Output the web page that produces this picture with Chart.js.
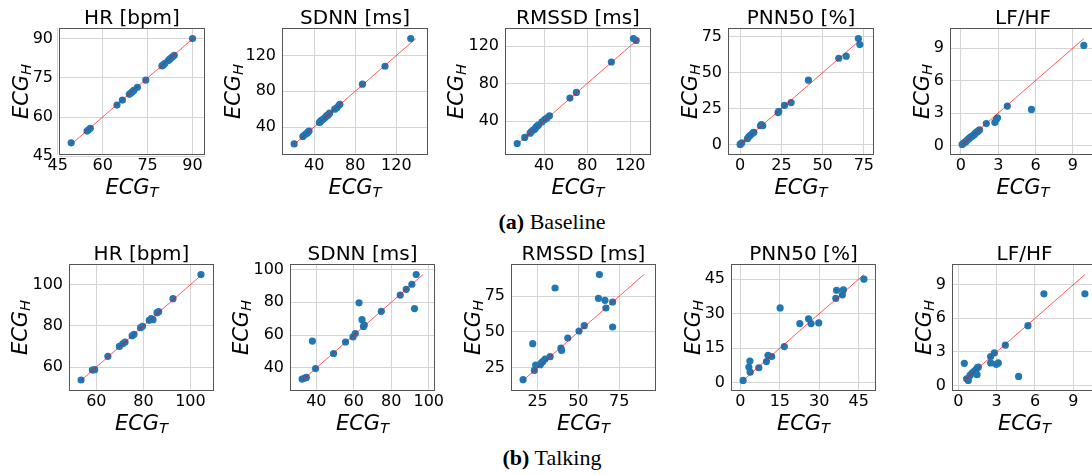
<!DOCTYPE html>
<html>
<head>
<meta charset="utf-8">
<script src="https://cdn.jsdelivr.net/npm/chart.js@4.4.1/dist/chart.umd.min.js"></script>
<style>
  html, body { margin: 0; padding: 0; background: #fff; width: 1092px; height: 475px; overflow: hidden; position: relative; }
  canvas { position: absolute; }
  .caption { position: absolute; left: 402px; width: 300px; text-align: center; font-family: "Liberation Serif", serif; font-size: 22px; line-height: 24px; color: #000; white-space: nowrap; }
</style>
</head>
<body>
<div class="caption" style="top:210px"><b>(a)</b> Baseline</div>
<div class="caption" style="top:446px"><b>(b)</b> Talking</div>
<script>
// Baseline: ECG_T (x) vs ECG_H (y)
const hrBaseT = [49.5, 54.8, 55.3, 55.9, 64.8, 66.6, 68.9, 69.4, 69.9, 70.4, 71.6, 74.4, 79.8, 80.3, 80.8, 81.9, 82.4, 82.9, 83.4, 83.9, 90.0];
const hrBaseH = [50.1, 54.6, 55.1, 55.7, 64.6, 66.5, 68.7, 69.2, 69.7, 70.2, 71.4, 74.2, 79.6, 80.1, 80.6, 81.7, 82.2, 82.7, 83.2, 83.7, 90.1];
const sdnnBaseT = [20.5, 29, 31, 33, 34, 35, 45, 46, 47, 48, 49.5, 51, 52, 53, 54, 55, 60, 62, 64, 65, 87, 109, 134];
const sdnnBaseH = [21, 29.5, 31.5, 33, 34.5, 35.5, 45, 46, 47.5, 48, 49.5, 51, 52.5, 53, 54, 55.5, 60, 61.5, 64, 65.5, 88, 108, 139];
const rmssdBaseT = [15, 22, 27, 28, 29.5, 31, 32, 33, 34, 35, 38, 40.5, 42.5, 45, 64, 70, 102.5, 123, 125.5];
const rmssdBaseH = [16, 22.5, 27, 28.5, 30, 31, 32.5, 34, 35, 36, 39, 41.5, 43, 45.5, 64.5, 70.5, 103, 128, 126];
const pnnBaseT = [0, 0.5, 1, 4.4, 5.3, 6.3, 7.7, 8.3, 12.3, 12.9, 13.7, 23, 23.4, 26.9, 30.9, 41.4, 59.8, 64.3, 71.7, 72.6];
const pnnBaseH = [0, 0.6, 1.1, 4, 5.5, 6.5, 8, 8.5, 13, 13.8, 13, 22.2, 23, 27.2, 29.2, 44.8, 60.1, 61.5, 73.8, 69.6];
const lfhfBaseT = [0.1, 0.2, 0.3, 0.4, 0.5, 0.6, 0.7, 0.8, 0.9, 1.0, 1.1, 1.2, 1.3, 1.4, 1.5, 2.04, 2.73, 2.86, 2.94, 3.73, 5.67, 9.88];
const lfhfBaseH = [0.1, 0.2, 0.3, 0.35, 0.5, 0.6, 0.7, 0.8, 0.85, 0.95, 1.05, 1.2, 1.25, 1.35, 1.45, 2.03, 2.13, 2.44, 2.56, 3.64, 3.33, 9.25];

// Talking
const hrTalkT = [53.5, 58.3, 59.3, 64.9, 69.8, 71.2, 72.2, 75.2, 76, 78.8, 79.6, 82.5, 83.3, 84.1, 85.8, 86.5, 92.6, 104.5];
const hrTalkH = [53.7, 58.5, 58.7, 65.2, 70, 71.3, 72.1, 75.2, 75.9, 79.1, 79.8, 82.7, 83.5, 83, 86.4, 86.9, 93.2, 104.9];
const sdnnTalkT = [32.4, 33.8, 34.7, 37.9, 39.6, 49.2, 55.6, 59.6, 60.8, 62.8, 64.4, 65.2, 65.6, 74.7, 84.8, 88, 91, 92.4, 93.3];
const sdnnTalkH = [33.2, 33.8, 34.2, 56.4, 39.6, 48.8, 55.8, 58.9, 61, 79.7, 69.4, 65.3, 66.1, 74.5, 84.4, 87.9, 91, 76.2, 96.9];
const rmssdTalkT = [16.1, 22, 23, 23.8, 26.6, 27.2, 28.2, 29.6, 32.7, 35.7, 39.3, 39.7, 43.5, 50.4, 53.6, 62.3, 62.9, 66.3, 66.9, 71, 71];
const rmssdTalkH = [16.6, 41.8, 23.1, 26.9, 27.1, 28.3, 29.4, 31.1, 32.7, 80.8, 38.8, 37.1, 45.8, 50.7, 54.4, 73.6, 90.2, 72.2, 66.8, 71, 53.5];
const pnnTalkT = [1, 3.2, 3.6, 3.7, 7, 9.9, 10.5, 11.9, 15.1, 16.7, 22.6, 25.9, 26.9, 29.8, 36.3, 36.6, 38.8, 39.2, 47];
const pnnTalkH = [1, 6.8, 9.4, 4.6, 6.5, 9.2, 11.9, 11.4, 32.5, 15.7, 25.7, 27.8, 25.7, 26, 36.7, 40.2, 38.2, 40.4, 45];
const lfhfTalkT = [0.47, 0.65, 0.78, 0.91, 1.07, 1.23, 1.38, 1.49, 1.57, 1.46, 2.53, 2.53, 2.82, 2.97, 3.13, 3.68, 4.72, 5.45, 6.7, 9.91];
const lfhfTalkH = [1.98, 0.6, 0.45, 0.9, 1.11, 1.26, 1.41, 1.59, 1.65, 0.96, 2.58, 2.01, 2.91, 1.89, 2.01, 3.6, 0.81, 5.34, 8.19, 8.19];

// tick values (same on both axes)
const hrBaseTicks = [45, 60, 75, 90];
const msBaseTicks = [40, 80, 120];
const pnnBaseTicks = [0, 25, 50, 75];
const lfhfTicks = [0, 3, 6, 9];
const hrTalkTicks = [60, 80, 100];
const sdnnTalkTicks = [40, 60, 80, 100];
const rmssdTalkTicks = [25, 50, 75];
const pnnTalkTicks = [0, 15, 30, 45];

const titles = ['HR [bpm]', 'SDNN [ms]', 'RMSSD [ms]', 'PNN50 [%]', 'LF/HF'];

// plot boxes
const row1Left = [59, 282, 505, 728, 950];
const row2Left = [69, 290, 511, 731, 952];

const panels = [
  { title: titles[0], t: hrBaseT, h: hrBaseH, ticks: hrBaseTicks, x: row1Left[0], y: 28, w: 146, ht: 127 },
  { title: titles[1], t: sdnnBaseT, h: sdnnBaseH, ticks: msBaseTicks, x: row1Left[1], y: 28, w: 146, ht: 127 },
  { title: titles[2], t: rmssdBaseT, h: rmssdBaseH, ticks: msBaseTicks, x: row1Left[2], y: 28, w: 146, ht: 127 },
  { title: titles[3], t: pnnBaseT, h: pnnBaseH, ticks: pnnBaseTicks, x: row1Left[3], y: 28, w: 146, ht: 127 },
  { title: titles[4], t: lfhfBaseT, h: lfhfBaseH, ticks: lfhfTicks, x: row1Left[4], y: 28, w: 146, ht: 127 },
  { title: titles[0], t: hrTalkT, h: hrTalkH, ticks: hrTalkTicks, x: row2Left[0], y: 264, w: 145, ht: 127 },
  { title: titles[1], t: sdnnTalkT, h: sdnnTalkH, ticks: sdnnTalkTicks, x: row2Left[1], y: 264, w: 145, ht: 127 },
  { title: titles[2], t: rmssdTalkT, h: rmssdTalkH, ticks: rmssdTalkTicks, x: row2Left[2], y: 264, w: 145, ht: 127 },
  { title: titles[3], t: pnnTalkT, h: pnnTalkH, ticks: pnnTalkTicks, x: row2Left[3], y: 264, w: 145, ht: 127 },
  { title: titles[4], t: lfhfTalkT, h: lfhfTalkH, ticks: lfhfTicks, x: row2Left[4], y: 264, w: 145, ht: 127 }
];

const FONT = '"DejaVu Sans", sans-serif';

function drawSub(ctx, main, sub, cx, baseY) {
  ctx.font = 'italic 21px ' + FONT;
  const mw = ctx.measureText(main).width;
  ctx.font = 'italic 14.7px ' + FONT;
  const sw = ctx.measureText(sub).width;
  const x0 = cx - (mw + sw) / 2;
  ctx.textAlign = 'left';
  ctx.textBaseline = 'alphabetic';
  ctx.font = 'italic 21px ' + FONT;
  ctx.fillText(main, x0, baseY);
  ctx.font = 'italic 14.7px ' + FONT;
  ctx.fillText(sub, x0 + mw, baseY + 3);
}

function decor(p) {
  return {
    id: 'decor',
    afterDraw(chart) {
      const ctx = chart.ctx;
      const a = chart.chartArea;
      ctx.save();
      // box
      ctx.strokeStyle = '#555';
      ctx.lineWidth = 1;
      ctx.strokeRect(a.left + 0.5, a.top + 0.5, a.right - a.left - 1, a.bottom - a.top - 1);
      // title
      ctx.fillStyle = '#000';
      ctx.textAlign = 'center';
      ctx.textBaseline = 'alphabetic';
      ctx.font = '20px ' + FONT;
      ctx.fillText(p.title, (a.left + a.right) / 2, a.top - 4);
      // x label
      drawSub(ctx, 'ECG', 'T', (a.left + a.right) / 2, a.bottom + 39);
      // y label, left of the widest tick label
      ctx.font = '16px ' + FONT;
      const tw = Math.max(...p.ticks.map(v => ctx.measureText(String(v)).width));
      ctx.translate(a.left - tw - 11, (a.top + a.bottom) / 2);
      ctx.rotate(-Math.PI / 2);
      drawSub(ctx, 'ECG', 'H', 0, 0);
      ctx.restore();
    }
  };
}

function makePanel(p) {
  const all = p.t.concat(p.h);
  const lo = Math.min(...all);
  const hi = Math.max(...all);
  const pad = (hi - lo) * 0.1;

  const padL = 80, padT = 30, padR = 12, padB = 52;
  const canvas = document.createElement('canvas');
  canvas.width = p.w + padL + padR;
  canvas.height = p.ht + padT + padB;
  canvas.style.left = (p.x - padL) + 'px';
  canvas.style.top = (p.y - padT) + 'px';
  document.body.appendChild(canvas);

  const axis = (pos) => ({
    type: 'linear',
    position: pos,
    min: lo - pad,
    max: hi + pad,
    afterBuildTicks: s => { s.ticks = p.ticks.map(v => ({ value: v })); },
    afterFit: s => {
      if (pos === 'left') s.width = padL; else s.height = padB;
      s.paddingLeft = 0; s.paddingRight = 0; s.paddingTop = 0; s.paddingBottom = 0;
    },
    grid: { color: '#d4d4d4', lineWidth: 1, drawTicks: false },
    border: { display: false },
    ticks: {
      padding: pos === 'left' ? 6 : 1,
      color: '#000',
      font: { family: FONT, size: 16 },
      maxRotation: 0,
      autoSkip: false,
      callback: v => String(v)
    }
  });

  new Chart(canvas, {
    type: 'scatter',
    data: {
      datasets: [
        {
          data: [{ x: lo, y: lo }, { x: hi, y: hi }],
          showLine: true,
          borderColor: 'rgba(255,0,0,0.65)',
          borderWidth: 1,
          pointRadius: 0,
          order: 0
        },
        {
          data: p.t.map((v, i) => ({ x: v, y: p.h[i] })),
          backgroundColor: '#1f77b4',
          borderColor: '#1f77b4',
          borderWidth: 0,
          pointRadius: 3.6,
          order: 1
        }
      ]
    },
    options: {
      responsive: false,
      animation: false,
      devicePixelRatio: 1,
      layout: { padding: { left: 0, top: padT, right: padR, bottom: 0 } },
      plugins: { legend: { display: false }, tooltip: { enabled: false }, title: { display: false } },
      scales: { x: axis('bottom'), y: axis('left') }
    },
    plugins: [decor(p)]
  });
}

panels.forEach(makePanel);
</script>
</body>
</html>
